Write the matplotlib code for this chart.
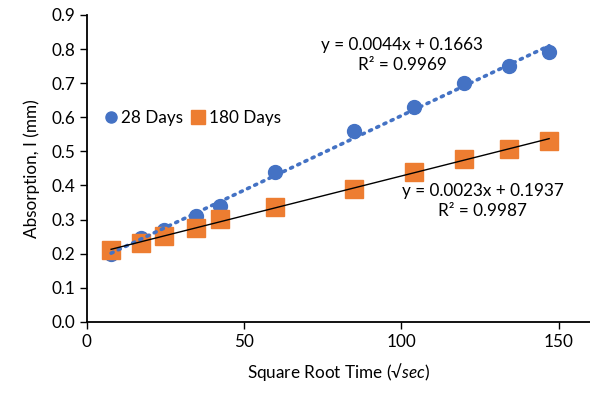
import numpy as np
import matplotlib
matplotlib.use('Agg')
import matplotlib.pyplot as plt

# sqrt of time in seconds
sqrt_time = [7.75, 17.3, 24.5, 34.6, 42.4, 60.0, 84.9, 103.9, 120.0, 134.2, 147.0]
days_28 = [0.20, 0.245, 0.27, 0.31, 0.34, 0.44, 0.56, 0.63, 0.70, 0.75, 0.79]
days_180 = [0.21, 0.23, 0.251, 0.276, 0.301, 0.337, 0.389, 0.44, 0.479, 0.508, 0.53]

eq_28 = 'y = 0.0044x + 0.1663\nR² = 0.9969'
eq_180 = 'y = 0.0023x + 0.1937\nR² = 0.9987'

plt.rcParams['font.family'] = ['Lato', 'DejaVu Sans']
plt.rcParams['mathtext.fontset'] = 'custom'
plt.rcParams['mathtext.it'] = 'Lato:italic'
fs = 12.3

blue = '#4472C4'
orange = '#ED7D31'

fig = plt.figure(figsize=(5.9, 3.93), dpi=100)
ax = fig.add_axes([0.147, 0.181, 0.853, 0.781])

x = np.array(sqrt_time)
ax.plot(x, days_28, 'o', color=blue, markersize=10, label='28 Days', zorder=3)
ax.plot(x, days_180, 's', color=orange, markersize=13, label='180 Days', zorder=3)

# linear trendlines
for ys, style in [(days_28, dict(color=blue, linestyle=(0, (0.6, 1.6)), lw=2.6, dash_capstyle='round')),
                  (days_180, dict(color='black', lw=1.0))]:
    m, b = np.polyfit(x, ys, 1)
    ax.plot([x[0], x[-1]], [m * x[0] + b, m * x[-1] + b], zorder=4, **style)

ax.text(100.3, 0.782, eq_28, ha='center', va='center', linespacing=1.3, fontsize=fs)
ax.text(125.9, 0.354, eq_180, ha='center', va='center', linespacing=1.3, fontsize=fs)

ax.set_xlim(0, 160)
ax.set_ylim(0, 0.9)
ax.set_xticks([0, 50, 100, 150])
ax.set_yticks(np.arange(0, 0.91, 0.1))
ax.yaxis.set_major_formatter(matplotlib.ticker.FormatStrFormatter('%.1f'))
ax.spines['top'].set_visible(False)
ax.spines['right'].set_visible(False)
ax.spines['left'].set_linewidth(1.3)
ax.spines['bottom'].set_linewidth(1.3)
ax.tick_params(direction='out', length=5, width=1, labelsize=fs)

ax.set_xlabel('Square Root Time (√$\\mathit{sec}$)', fontsize=fs, labelpad=8)
ax.set_ylabel('Absorption, I (mm)', fontsize=fs, labelpad=8)

ax.legend(loc='center left', bbox_to_anchor=(0.0, 0.665), ncol=2, frameon=False,
          handletextpad=0.1, columnspacing=0.4, handlelength=1.0, markerscale=0.8,
          fontsize=fs)

plt.savefig('out.png', dpi=100)
